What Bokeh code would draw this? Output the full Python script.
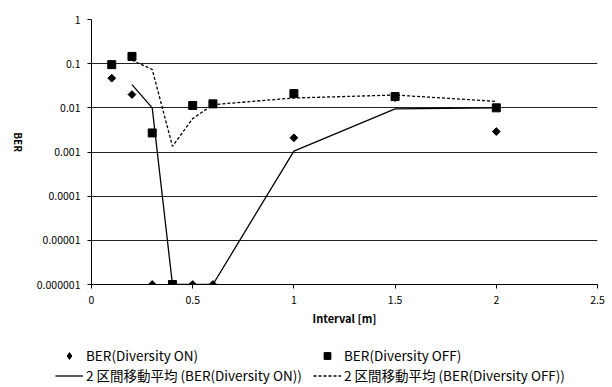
import math
from bokeh.plotting import figure
from bokeh.models import FixedTicker, Legend, LegendItem
from bokeh.embed import file_html
from bokeh.resources import INLINE

# ---- data ----
interval = [0.1, 0.2, 0.3, 0.4, 0.5, 0.6, 1.0, 1.5, 2.0]
ber_on = [0.047, 0.020, 1e-6, 1e-6, 1e-6, 1e-6, 0.0021, 0.017, 0.0029]
ber_off = [0.095, 0.146, 0.0027, 1e-6, 0.0113, 0.0123, 0.021, 0.018, 0.010]

ma_interval = [0.2, 0.3, 0.4, 0.5, 0.6, 1.0, 1.5, 2.0]
ma_on = [0.0335, 0.010, 1e-6, 1e-6, 1e-6, 0.00105, 0.0095, 0.0100]
ma_off = [0.12, 0.074, 0.00135, 0.0057, 0.0118, 0.0167, 0.0195, 0.014]

y_ticks = [1e-6, 1e-5, 1e-4, 1e-3, 1e-2, 1e-1, 1]
y_tick_labels = ["0.000001", "0.00001", "0.0001", "0.001", "0.01", "0.1", "1"]
x_ticks = [0, 0.5, 1, 1.5, 2, 2.5]
x_tick_labels = ["0", "0.5", "1", "1.5", "2", "2.5"]

label_on = "BER(Diversity ON)"
label_off = "BER(Diversity OFF)"
label_ma_on = "2 区間移動平均 (BER(Diversity ON))"
label_ma_off = "2 区間移動平均 (BER(Diversity OFF))"
x_title = "Interval [m]"
y_title = "BER"

FONT = "Noto Sans CJK JP"

# common styles
ON_MARK = dict(marker="square", angle=math.pi / 4, size=5.5,
               fill_color="black", line_color="black")
ON_KEY = dict(marker="diamond", size=9, fill_color="black", line_color="black")
OFF_MARK = dict(marker="square", size=8, fill_color="black", line_color="black")
MA_ON_LINE = dict(line_color="black", line_width=1.3)
MA_OFF_LINE = dict(line_color="black", line_width=1.3, line_dash="3 2")

# ---------------- main chart ----------------
p = figure(width=612, height=340, y_axis_type="log",
           x_range=(0, 2.5), y_range=(1e-6, 1),
           output_backend="svg", toolbar_location=None,
           min_border_left=91, min_border_right=15,
           min_border_top=19, min_border_bottom=56)
p.outline_line_color = None
p.background_fill_color = "white"

p.xgrid.grid_line_color = None
p.ygrid.grid_line_color = "#222222"
p.ygrid.grid_line_width = 1
p.ygrid.ticker = FixedTicker(ticks=y_ticks)

p.yaxis.ticker = FixedTicker(ticks=y_ticks, minor_ticks=[])
p.yaxis.major_label_overrides = {t: s for t, s in zip(y_ticks, y_tick_labels)}
p.xaxis.ticker = FixedTicker(ticks=x_ticks, minor_ticks=[])
p.xaxis.major_label_overrides = {t: s for t, s in zip(x_ticks, x_tick_labels)}
for ax in (p.xaxis, p.yaxis):
    ax.axis_line_color = "black"
    ax.axis_line_width = 1
    ax.major_tick_line_color = "black"
    ax.major_tick_in = 0
    ax.major_tick_out = 4
    ax.minor_tick_line_color = None
    ax.major_label_text_font = FONT
    ax.major_label_text_font_size = "10.5px"
    ax.major_label_text_font_style = "normal"
    ax.major_label_text_color = "black"
    ax.major_label_standoff = 7
    ax.axis_label_text_font = FONT
    ax.axis_label_text_font_style = "bold"
    ax.axis_label_text_color = "black"
p.xaxis.axis_label = x_title
p.xaxis.axis_label_text_font_size = "11px"
p.xaxis.axis_label_standoff = 3

p.yaxis.axis_label = y_title
p.yaxis.axis_label_text_font_size = "10px"
p.yaxis.axis_label_standoff = 15
try:
    p.yaxis.axis_label_orientation = -math.pi / 2
except Exception:
    pass

p.line(ma_interval, ma_on, **MA_ON_LINE)
p.line(ma_interval, ma_off, **MA_OFF_LINE)
p.scatter(interval, ber_on, **ON_MARK)
p.scatter(interval, ber_off, **OFF_MARK)

# ---------------- legend strip (separate root, below the chart) ----------------
# The same series are attached here only as legend keys; the y range keeps
# their marks out of view so only the legend entries show.
lg = figure(width=612, height=47, x_range=(0, 2.5), y_range=(10, 20),
            output_backend="svg", toolbar_location=None,
            x_axis_location=None, y_axis_location=None,
            min_border_left=0, min_border_right=0,
            min_border_top=0, min_border_bottom=0)
lg.outline_line_color = None
lg.xgrid.grid_line_color = None
lg.ygrid.grid_line_color = None

k_on = lg.scatter(interval, ber_on, **ON_KEY)
k_off = lg.scatter(interval, ber_off, **OFF_MARK)
k_ma_on = lg.line(ma_interval, ma_on, **MA_ON_LINE)
k_ma_off = lg.line(ma_interval, ma_off, **MA_OFF_LINE)

legend = Legend(items=[LegendItem(label=label_on, renderers=[k_on]),
                       LegendItem(label=label_off, renderers=[k_off]),
                       LegendItem(label=label_ma_on, renderers=[k_ma_on]),
                       LegendItem(label=label_ma_off, renderers=[k_ma_off])],
                location=(55, 2), orientation="horizontal", ncols=2,
                glyph_width=28, glyph_height=17, label_height=17,
                label_width=227, label_standoff=3, spacing=0,
                padding=0, border_line_alpha=0,
                background_fill_alpha=0,
                label_text_font=FONT, label_text_font_size="13.5px",
                label_text_color="black")
lg.add_layout(legend)

open("out.html", "w").write(file_html([p, lg], INLINE))
